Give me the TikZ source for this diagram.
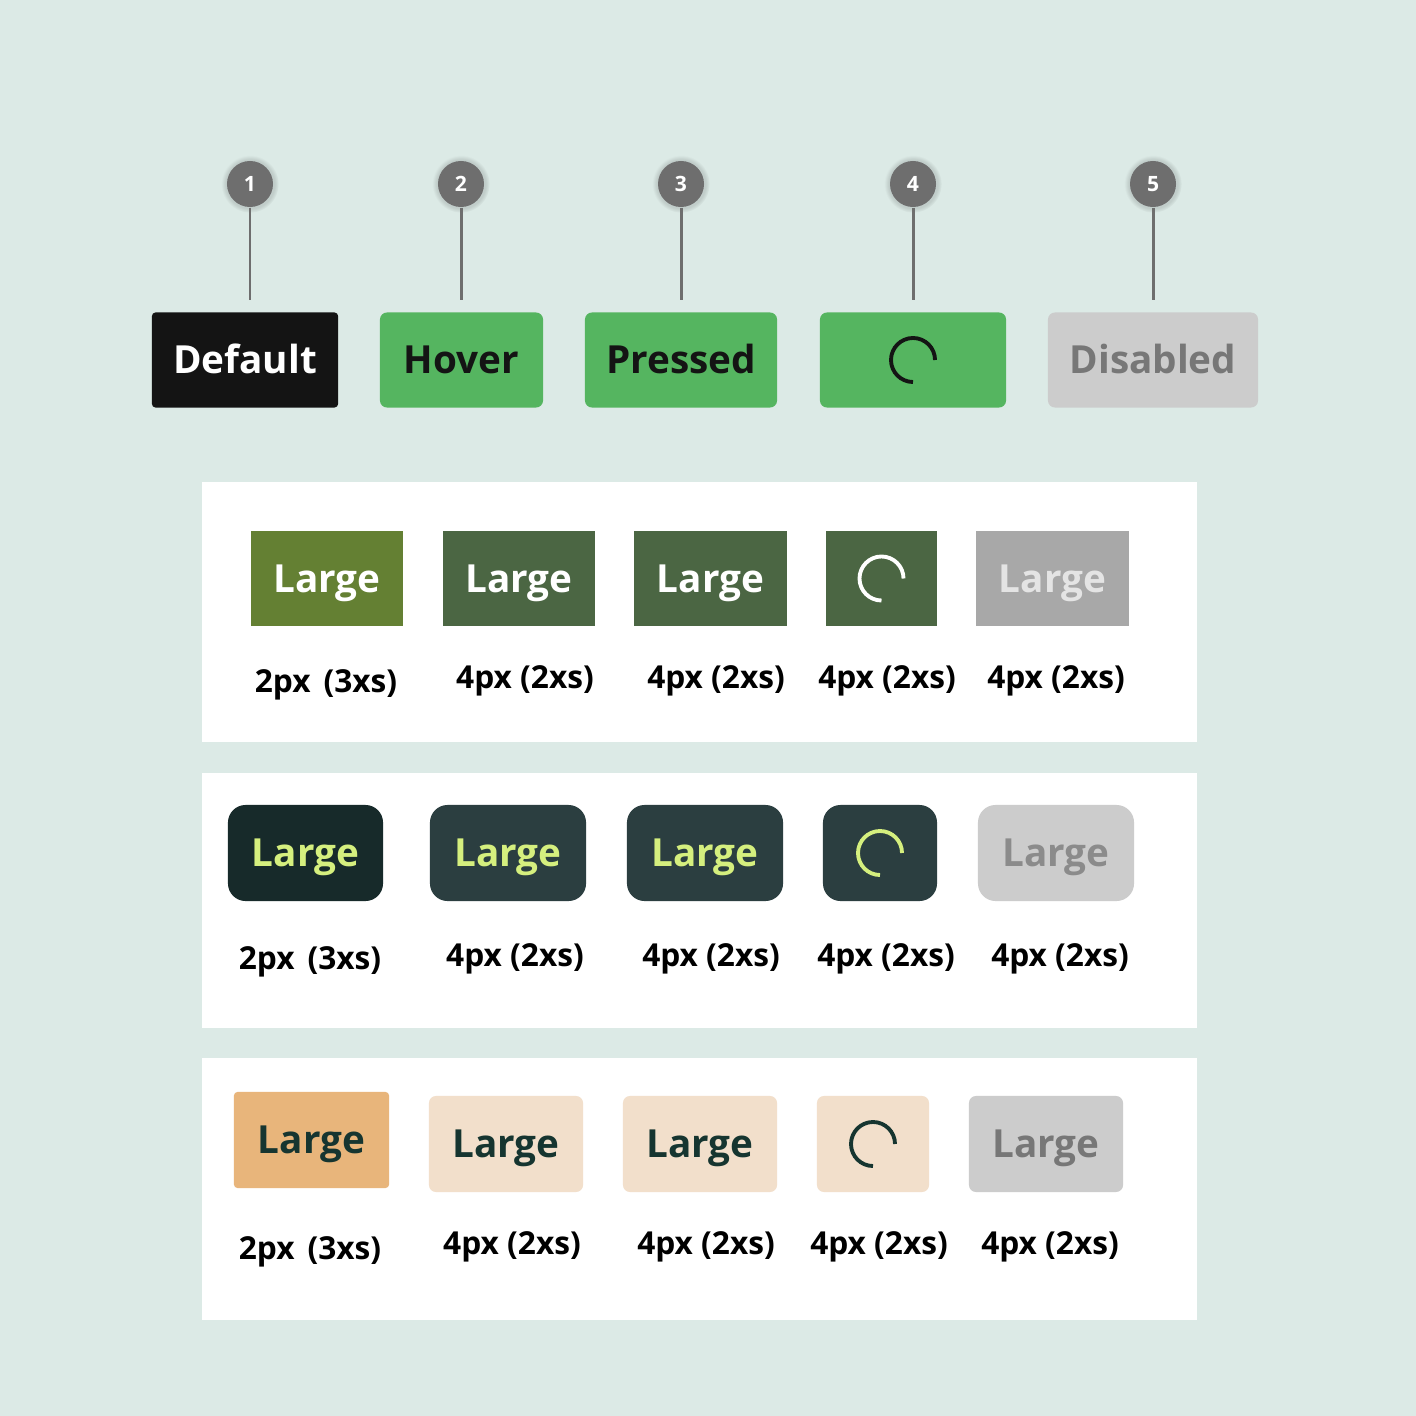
\documentclass[tikz,border=0pt]{standalone}
\usepackage{fontspec}
\setmainfont{Open Sans}
\usetikzlibrary{shadows}

\definecolor{bgmint}{HTML}{DCEAE6}
\definecolor{pingray}{HTML}{6E6E6E}
\definecolor{btngreen}{HTML}{55B560}
\definecolor{btnblack}{HTML}{141414}
\definecolor{offgray}{HTML}{CCCCCC}
\definecolor{offtext}{HTML}{777777}
\definecolor{olive}{HTML}{648033}
\definecolor{forest}{HTML}{4B6643}
\definecolor{midgray}{HTML}{A8A8A8}
\definecolor{palegray}{HTML}{E4E4E4}
\definecolor{deepteal}{HTML}{172A2A}
\definecolor{slateteal}{HTML}{2B3E40}
\definecolor{lime}{HTML}{D5EF7E}
\definecolor{tan}{HTML}{E8B57B}
\definecolor{cream}{HTML}{F2DFCB}
\definecolor{inkteal}{HTML}{163530}

\begin{document}
\begin{tikzpicture}[
  x=0.01cm, y=-0.01cm,
  btn/.style={inner sep=0pt, minimum height=0.95cm, text height=7.85pt, text depth=0pt,
    font=\fontsize{11}{11}\selectfont\bfseries},
  pin/.style={circle, fill=pingray, minimum size=0.46cm, inner sep=0pt, text=white,
    font=\fontsize{6}{6}\selectfont\bfseries, circular glow={fill=black, opacity=0.12}},
  stem/.style={draw=pingray, line width=0.85pt, shorten >=0.12cm},
  spin/.style={line width=1.1pt},
  lbl/.style={inner sep=0pt, text height=6.4pt, text depth=0pt,
    font=\fontsize{9}{9}\selectfont\bfseries, text=black},
  panel/.style={fill=white}
]
\fill[bgmint] (0,0) rectangle (1416,1416);
\useasboundingbox (0,0) rectangle (1416,1416);

% states
\node[btn, fill=btnblack, text=white, rounded corners=1pt, minimum width=1.86cm] (def) at (245,360) {Default};
\node[btn, fill=btngreen, text=btnblack, rounded corners=2pt, minimum width=1.63cm] (hov) at (461.5,360) {Hover};
\node[btn, fill=btngreen, text=btnblack, rounded corners=2pt, minimum width=1.92cm] (prs) at (681,360) {Pressed};
\node[btn, fill=btngreen, rounded corners=2pt, minimum width=1.86cm] (ldg) at (913,360) {};
\node[btn, fill=offgray, text=offtext, rounded corners=2pt, minimum width=2.10cm] (dis) at (1153,360) {Disabled};
\draw[spin, draw=btnblack] ([xshift=0.22cm]ldg.center) arc[start angle=0, end angle=270, radius=0.22cm];

\node[pin] (n1) at (250,184) {1};
\node[pin] (n2) at (461,184) {2};
\node[pin] (n3) at (681,184) {3};
\node[pin] (n4) at (913,184) {4};
\node[pin] (n5) at (1153,184) {5};
\draw[stem] (n1) -- (n1 |- def.north);
\draw[stem] (n2) -- (n2 |- hov.north);
\draw[stem] (n3) -- (n3 |- prs.north);
\draw[stem] (n4) -- (n4 |- ldg.north);
\draw[stem] (n5) -- (n5 |- dis.north);

% panels
\fill[panel] (202,482) rectangle (1197,742);
\fill[panel] (202,773) rectangle (1197,1028);
\fill[panel] (202,1058) rectangle (1197,1320);

% first panel
\node[btn, fill=olive, text=white, minimum width=1.52cm] (a1) at (327,578.5) {Large};
\node[btn, fill=forest, text=white, minimum width=1.52cm] (a2) at (519,578.5) {Large};
\node[btn, fill=forest, text=white, minimum width=1.53cm] (a3) at (710.5,578.5) {Large};
\node[btn, fill=forest, minimum width=1.11cm] (a4) at (881.5,578.5) {};
\node[btn, fill=midgray, text=palegray, minimum width=1.53cm] (a5) at (1052.5,578.5) {Large};
\draw[spin, draw=white] ([xshift=0.22cm]a4.center) arc[start angle=0, end angle=270, radius=0.22cm];
\node[lbl] (la1) at (326,681) {2px\hspace{0.15em} (3xs)};
\node[lbl] (la2) at (525,677.5) {4px (2xs)};
\node[lbl] (la3) at (716,677.5) {4px (2xs)};
\node[lbl] (la4) at (887,677.5) {4px (2xs)};
\node[lbl] (la5) at (1056,677.5) {4px (2xs)};

% second panel
\node[btn, fill=deepteal, text=lime, rounded corners=5pt, minimum width=1.55cm, minimum height=0.96cm] (b1) at (305.5,853) {Large};
\node[btn, fill=slateteal, text=lime, rounded corners=5pt, minimum width=1.56cm, minimum height=0.96cm] (b2) at (508,853) {Large};
\node[btn, fill=slateteal, text=lime, rounded corners=5pt, minimum width=1.56cm, minimum height=0.96cm] (b3) at (705,853) {Large};
\node[btn, fill=slateteal, rounded corners=5pt, minimum width=1.14cm, minimum height=0.96cm] (b4) at (880,853) {};
\node[btn, fill=offgray, text=offtext!85, rounded corners=5pt, minimum width=1.56cm, minimum height=0.96cm] (b5) at (1056,853) {Large};
\draw[spin, draw=lime] ([xshift=0.22cm]b4.center) arc[start angle=0, end angle=270, radius=0.22cm];
\node[lbl] (lb1) at (310,958) {2px\hspace{0.15em} (3xs)};
\node[lbl] (lb2) at (515,955) {4px (2xs)};
\node[lbl] (lb3) at (711,955) {4px (2xs)};
\node[lbl] (lb4) at (886,955) {4px (2xs)};
\node[lbl] (lb5) at (1060,955) {4px (2xs)};

% third panel
\node[btn, fill=tan, text=inkteal, rounded corners=1pt, minimum width=1.55cm, minimum height=0.96cm] (c1) at (311.5,1140) {Large};
\node[btn, fill=cream, text=inkteal, rounded corners=2pt, minimum width=1.54cm, minimum height=0.96cm] (c2) at (506,1144) {Large};
\node[btn, fill=cream, text=inkteal, rounded corners=2pt, minimum width=1.54cm, minimum height=0.96cm] (c3) at (700,1144) {Large};
\node[btn, fill=cream, rounded corners=2pt, minimum width=1.12cm, minimum height=0.96cm] (c4) at (873,1144) {};
\node[btn, fill=offgray, text=offtext, rounded corners=2pt, minimum width=1.54cm, minimum height=0.96cm] (c5) at (1046,1144) {Large};
\draw[spin, draw=inkteal] ([xshift=0.22cm]c4.center) arc[start angle=0, end angle=270, radius=0.22cm];
\node[lbl] (lc1) at (310,1248) {2px\hspace{0.15em} (3xs)};
\node[lbl] (lc2) at (512,1243.5) {4px (2xs)};
\node[lbl] (lc3) at (706,1243.5) {4px (2xs)};
\node[lbl] (lc4) at (879,1243.5) {4px (2xs)};
\node[lbl] (lc5) at (1050,1243.5) {4px (2xs)};
\end{tikzpicture}
\end{document}
